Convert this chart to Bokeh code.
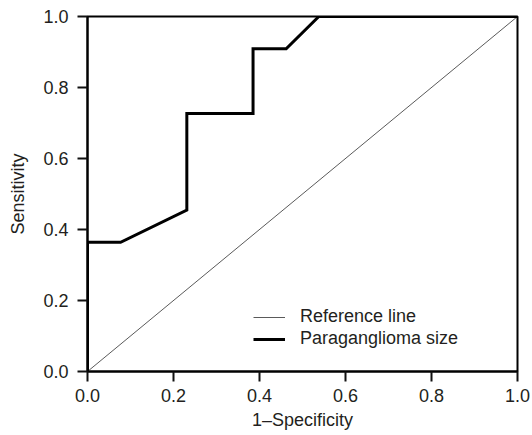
from bokeh.plotting import figure
from bokeh.models import FixedTicker, NumeralTickFormatter, Legend, LegendItem, Range1d
from bokeh.embed import file_html
from bokeh.resources import INLINE

# Data
ref_x = [0.0, 1.0]
ref_y = [0.0, 1.0]
roc_fpr = [0.0, 0.0, 0.077, 0.231, 0.231, 0.385, 0.385, 0.462, 0.538, 1.0]
roc_tpr = [0.0, 0.364, 0.364, 0.455, 0.727, 0.727, 0.909, 0.909, 1.0, 1.0]
ticks = [0.0, 0.2, 0.4, 0.6, 0.8, 1.0]
series_names = ["Reference line", "Paraganglioma size"]

FONT = "Liberation Sans"
TXT = "#231f20"
FS = "18px"

p = figure(width=532, height=435, output_backend="svg", toolbar_location=None,
           x_range=Range1d(0, 1), y_range=Range1d(0, 1),
           min_border_left=87, min_border_top=16, min_border_right=15, min_border_bottom=64)
p.background_fill_color = "white"
p.border_fill_color = "white"
p.outline_line_color = "black"
p.outline_line_width = 2
p.xgrid.visible = False
p.ygrid.visible = False

r_ref = p.line(ref_x, ref_y, line_color="#5a5a5a", line_width=1)
r_roc = p.line(roc_fpr, roc_tpr, line_color="black", line_width=3, line_join="miter")

p.axis.ticker = FixedTicker(ticks=ticks)
p.axis.formatter = NumeralTickFormatter(format="0.0")
p.axis.minor_tick_line_color = None
p.axis.major_tick_in = 0
p.axis.major_tick_out = 10
p.axis.major_tick_line_width = 2
p.axis.major_tick_line_color = "#111111"
p.axis.axis_line_width = 2
p.axis.axis_line_color = "black"
p.axis.major_label_text_font = FONT
p.axis.major_label_text_font_size = FS
p.axis.major_label_text_color = TXT
p.axis.axis_label_text_font = FONT
p.axis.axis_label_text_font_size = FS
p.axis.axis_label_text_font_style = "normal"
p.axis.axis_label_text_color = TXT

p.xaxis.major_label_standoff = 7
p.yaxis.major_label_standoff = 9
p.xaxis.axis_label = "1\u2013Specificity"
p.xaxis.axis_label_standoff = 5
p.yaxis.axis_label = "Sensitivity"
p.yaxis.axis_label_standoff = 12

legend = Legend(items=[LegendItem(label=series_names[0], renderers=[r_ref]),
                       LegendItem(label=series_names[1], renderers=[r_roc])],
                location=(166, 22), border_line_color=None, background_fill_alpha=0,
                padding=0, margin=0, spacing=1, glyph_width=32, label_height=19,
                label_standoff=15, label_text_font=FONT, label_text_font_size=FS,
                label_text_color=TXT)
p.add_layout(legend)

open("out.html", "w").write(file_html(p, INLINE))
